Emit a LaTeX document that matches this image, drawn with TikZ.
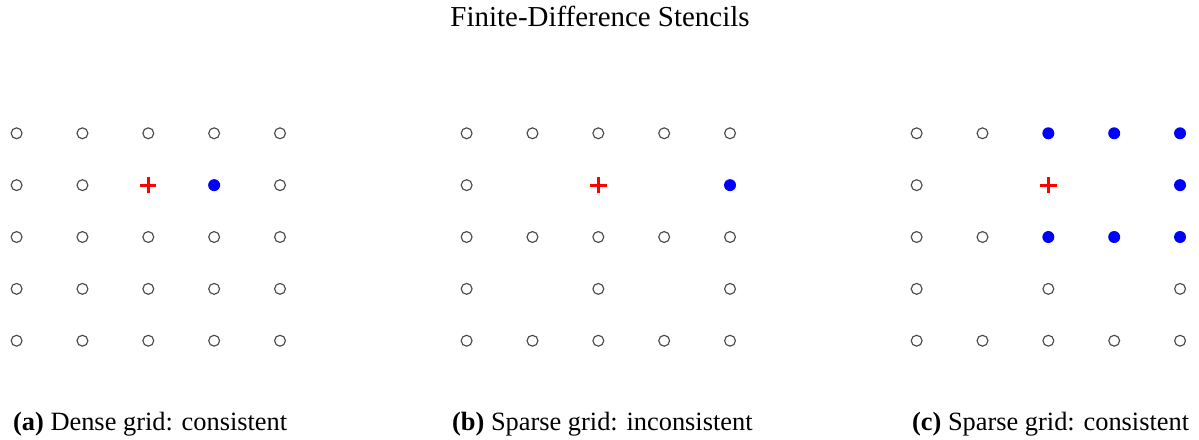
\documentclass[tikz,border=0pt]{standalone}
\usepackage{fontspec}
\setmainfont{Liberation Serif}
\usetikzlibrary{shapes.misc}

\begin{document}
\begin{tikzpicture}[
  ring/.style={circle, draw=black!70, line width=0.5pt, inner sep=0pt, minimum size=0.165cm},
  dot/.style={circle, fill=blue, inner sep=0pt, minimum size=0.182cm},
  ctr/.style={cross out, draw=red, line width=1.3pt, rotate=45, inner sep=0pt, minimum size=0.13cm},
  gap/.style={inner sep=0pt},
  subcap/.style={anchor=base west, inner sep=0pt, font=\fontsize{11.4}{13}\selectfont}
]
  \useasboundingbox (0,0) rectangle (18.208,-6.667);
  \node[anchor=base, inner sep=0pt, font=\fontsize{12.5}{14}\selectfont] (title) at (9.112,-0.405) {Finite-Difference Stencils};

  % (a) dense grid
  \begin{scope}[shift={(0.252,-2.024)}]
    \foreach \row [count=\j from 0] in {
      {ring,ring,ring,ring,ring},
      {ring,ring,ctr,dot,ring},
      {ring,ring,ring,ring,ring},
      {ring,ring,ring,ring,ring},
      {ring,ring,ring,ring,ring}}
      \foreach \t [count=\i from 0] in \row
        \node[\t] (a-\i-\j) at (\i,-0.7875*\j) {};
  \end{scope}

  % (b) sparse grid, one neighbour
  \begin{scope}[shift={(7.086,-2.024)}]
    \foreach \row [count=\j from 0] in {
      {ring,ring,ring,ring,ring},
      {ring,gap,ctr,gap,dot},
      {ring,ring,ring,ring,ring},
      {ring,gap,ring,gap,ring},
      {ring,ring,ring,ring,ring}}
      \foreach \t [count=\i from 0] in \row
        \node[\t] (b-\i-\j) at (\i,-0.7875*\j) {};
  \end{scope}

  % (c) sparse grid, full neighbourhood
  \begin{scope}[shift={(13.92,-2.024)}]
    \foreach \row [count=\j from 0] in {
      {ring,ring,dot,dot,dot},
      {ring,gap,ctr,gap,dot},
      {ring,ring,dot,dot,dot},
      {ring,gap,ring,gap,ring},
      {ring,ring,ring,ring,ring}}
      \foreach \t [count=\i from 0] in \row
        \node[\t] (c-\i-\j) at (\i,-0.7875*\j) {};
  \end{scope}

  \node[subcap] (capa) at (0.193,-6.540) {\textbf{(a)} Dense grid: consistent};
  \node[subcap] (capb) at (6.860,-6.540) {\textbf{(b)} Sparse grid: inconsistent};
  \node[subcap] (capc) at (13.845,-6.540) {\textbf{(c)} Sparse grid: consistent};
\end{tikzpicture}
\end{document}
